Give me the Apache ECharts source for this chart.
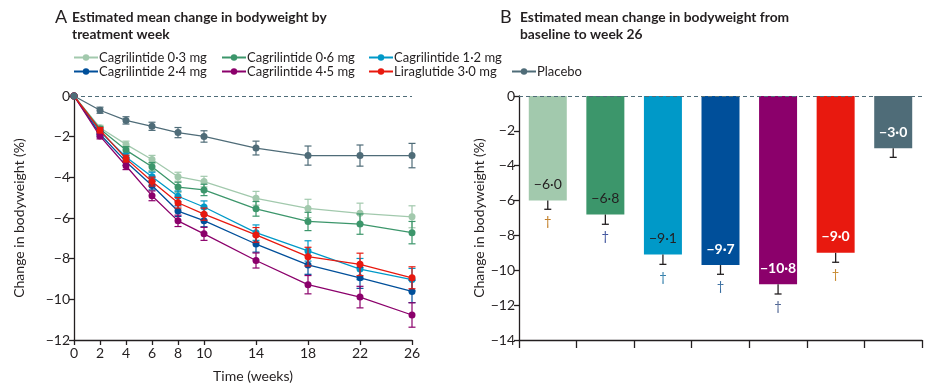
<!DOCTYPE html>
<html><head><meta charset="utf-8">
<script src="https://cdn.jsdelivr.net/npm/echarts@6/dist/echarts.min.js"></script>
<style>html,body{margin:0;padding:0;background:#fff}#c{width:930px;height:392px}</style>
</head><body><div id="c"></div>
<script>
// ---- data ----
const weeks = [0, 2, 4, 6, 8, 10, 14, 18, 22, 26];
const seriesNames = ['Cagrilintide 0·3 mg', 'Cagrilintide 0·6 mg', 'Cagrilintide 1·2 mg', 'Cagrilintide 2·4 mg', 'Cagrilintide 4·5 mg', 'Liraglutide 3·0 mg', 'Placebo'];
const cag03 = [0, -1.56, -2.38, -3.12, -3.97, -4.21, -5.03, -5.53, -5.77, -5.94];
const cag06 = [0, -1.62, -2.66, -3.48, -4.48, -4.62, -5.55, -6.17, -6.30, -6.72];
const cag12 = [0, -1.75, -3.00, -3.97, -4.93, -5.46, -6.72, -7.62, -8.51, -9.03];
const cag24 = [0, -1.88, -3.23, -4.40, -5.66, -6.13, -7.28, -8.31, -8.94, -9.61];
const cag45 = [0, -1.97, -3.43, -4.91, -6.14, -6.78, -8.09, -9.28, -9.89, -10.77];
const lira30 = [0, -1.68, -3.08, -4.21, -5.25, -5.81, -6.83, -7.90, -8.28, -8.94];
const placebo = [0, -0.70, -1.20, -1.49, -1.80, -1.99, -2.56, -2.93, -2.93, -2.93];
const err03 = [0, 0.12, 0.16, 0.2, 0.22, 0.26, 0.34, 0.45, 0.5, 0.54];
const err06 = [0, 0.12, 0.17, 0.21, 0.24, 0.28, 0.36, 0.45, 0.5, 0.55];
const err12 = [0, 0.13, 0.18, 0.22, 0.26, 0.3, 0.38, 0.5, 0.52, 0.55];
const err24 = [0, 0.13, 0.18, 0.22, 0.26, 0.3, 0.4, 0.46, 0.52, 0.55];
const err45 = [0, 0.14, 0.19, 0.24, 0.28, 0.32, 0.37, 0.45, 0.53, 0.6];
const errLira = [0, 0.13, 0.17, 0.22, 0.26, 0.3, 0.36, 0.46, 0.55, 0.54];
const errPlac = [0, 0.15, 0.18, 0.2, 0.25, 0.28, 0.34, 0.47, 0.52, 0.6];
const barValues = [-6.0, -6.8, -9.1, -9.7, -10.8, -9.0, -3.0];
const barErrors = [0.5, 0.56, 0.56, 0.53, 0.56, 0.54, 0.52];
const barDagger = ['†', '†', '†', '†', '†', '†', ''];

// ---- styles ----
const colors = ['#a2c9ad', '#3c966b', '#0099c8', '#004f9a', '#8b006b', '#e8190f', '#4f6c78'];
const lineData = [cag03, cag06, cag12, cag24, cag45, lira30, placebo];
const errData = [err03, err06, err12, err24, err45, errLira, errPlac];
const labelColors = ['#231f20', '#231f20', '#231f20', '#fff', '#fff', '#fff', '#fff'];
const labelWeights = ['normal', 'normal', 'normal', 'bold', 'bold', 'bold', 'bold'];
const daggerColors = ['#c07a20', '#3a4f9a', '#2a7aa8', '#3a6ea0', '#4a6090', '#c88a30', '#000'];
const FONT = 'Lato';
const TXT = '#231f20';
const AX = 14;

function fmt(v) {
  const s = Math.abs(v).toFixed(1).replace('.', '·');
  return (v < 0 ? '−' : '') + s;
}

const chart = echarts.init(document.getElementById('c'), null, {renderer: 'canvas'});

const series = [];
lineData.forEach((d, k) => {
  series.push({
    name: seriesNames[k], type: 'line', xAxisIndex: 0, yAxisIndex: 0,
    data: weeks.map((w, i) => [w, d[i]]),
    symbol: 'circle', symbolSize: 7, showSymbol: true,
    lineStyle: {color: colors[k], width: 1.3},
    itemStyle: {color: colors[k]},
    z: 3 + k, animation: false,
    markLine: k === 0 ? {
      silent: true, symbol: 'none', label: {show: false},
      lineStyle: {color: '#4f6c78', type: [4, 3], width: 1},
      data: [{yAxis: 0}]
    } : undefined
  });
  series.push({
    name: 'err' + k, type: 'custom', xAxisIndex: 0, yAxisIndex: 0,
    data: weeks.map((w, i) => [w, d[i], errData[k][i]]).filter(r => r[2] > 0),
    z: 3 + k, animation: false,
    renderItem: function (params, api) {
      const x = api.value(0), y = api.value(1), e = api.value(2);
      const top = api.coord([x, y + e]), bot = api.coord([x, y - e]);
      const h = 3.5;
      const st = {stroke: colors[k], lineWidth: 1.2};
      return {type: 'group', children: [
        {type: 'line', shape: {x1: top[0], y1: top[1], x2: bot[0], y2: bot[1]}, style: st},
        {type: 'line', shape: {x1: top[0] - h, y1: top[1], x2: top[0] + h, y2: top[1]}, style: st},
        {type: 'line', shape: {x1: bot[0] - h, y1: bot[1], x2: bot[0] + h, y2: bot[1]}, style: st}
      ]};
    }
  });
});

// Panel B bars
series.push({
  name: 'bars', type: 'bar', xAxisIndex: 1, yAxisIndex: 1,
  data: barValues.map((v, i) => ({value: v, itemStyle: {color: colors[i]}})),
  barWidth: 38, animation: false,
  markLine: {
    silent: true, symbol: 'none', label: {show: false},
    lineStyle: {color: '#4f6c78', type: [4, 3], width: 1},
    data: [{yAxis: 0}]
  }
});
series.push({
  name: 'barsErr', type: 'custom', xAxisIndex: 1, yAxisIndex: 1,
  data: barValues.map((v, i) => [i, v, barErrors[i]]),
  z: 5, animation: false,
  renderItem: function (params, api) {
    const i = api.value(0), v = api.value(1), e = api.value(2);
    const p0 = api.coord([i, v]), p1 = api.coord([i, v - e]);
    const st = {stroke: '#231f20', lineWidth: 1.3};
    return {type: 'group', children: [
      {type: 'line', shape: {x1: p0[0], y1: p0[1], x2: p1[0], y2: p1[1]}, style: st},
      {type: 'line', shape: {x1: p1[0] - 3.5, y1: p1[1], x2: p1[0] + 3.5, y2: p1[1]}, style: st},
      {type: 'text', style: {text: fmt(v), x: p0[0], y: p0[1] - 16, align: 'center', verticalAlign: 'middle',
        fill: labelColors[i], font: labelWeights[i] + ' 14px ' + FONT}},
      {type: 'text', style: {text: barDagger[i], x: p1[0], y: p1[1] + 13, align: 'center', verticalAlign: 'middle',
        fill: daggerColors[i], font: '13px ' + FONT}}
    ]};
  }
});

const legendPos = [[73, 51], [221, 51], [368, 51], [73, 65], [221, 65], [368, 65], [511, 65]];
const legends = seriesNames.map((n, k) => ({
  data: [n], left: legendPos[k][0], top: legendPos[k][1], padding: 0,
  itemWidth: 24, itemHeight: 8, itemGap: 0, selectedMode: false,
  textStyle: {fontFamily: FONT, fontSize: 13, color: TXT, padding: [0, 0, 0, -4]}
}));

const axisCommon = {
  axisLine: {show: true, onZero: false, lineStyle: {color: TXT, width: 1.3}},
  axisTick: {show: true, lineStyle: {color: TXT, width: 1.3}},
  axisLabel: {fontFamily: FONT, fontSize: AX, color: TXT},
  splitLine: {show: false}
};
const minusFmt = v => v < 0 ? '−' + Math.abs(v) : String(v);

chart.setOption({
  animation: false,
  textStyle: {fontFamily: FONT},
  title: [
    {text: 'A', left: 55, top: 8, padding: 0, textStyle: {fontFamily: FONT, fontSize: 18, fontWeight: 'normal', color: TXT}},
    {text: 'Estimated mean change in bodyweight by\ntreatment week', left: 72, top: 9, padding: 0,
      textStyle: {fontFamily: FONT, fontSize: 13.8, fontWeight: 'bold', color: TXT, lineHeight: 17}},
    {text: 'B', left: 500, top: 8, padding: 0, textStyle: {fontFamily: FONT, fontSize: 18, fontWeight: 'normal', color: TXT}},
    {text: 'Estimated mean change in bodyweight from\nbaseline to week 26', left: 520, top: 9, padding: 0,
      textStyle: {fontFamily: FONT, fontSize: 13.8, fontWeight: 'bold', color: TXT, lineHeight: 17}}
  ],
  legend: legends,
  grid: [
    {left: 74, top: 96, width: 338, height: 244},
    {left: 519, top: 96, width: 403, height: 244}
  ],
  xAxis: [
    Object.assign({}, axisCommon, {
      type: 'value', gridIndex: 0, min: 0, max: 26, interval: 2,
      name: 'Time (weeks)', nameLocation: 'middle', nameGap: 29,
      nameTextStyle: {fontFamily: FONT, fontSize: AX, color: TXT, padding: [0, 0, 0, 20]},
      axisTick: {show: true, length: 5, lineStyle: {color: TXT, width: 1.3}, customValues: weeks},
      axisLabel: {fontFamily: FONT, fontSize: AX, color: TXT, margin: 6, customValues: weeks}
    }),
    Object.assign({}, axisCommon, {
      type: 'category', gridIndex: 1, data: seriesNames,
      axisTick: {show: true, length: 8, interval: 0, alignWithLabel: false, lineStyle: {color: TXT, width: 1.3}},
      axisLabel: {show: false}
    })
  ],
  yAxis: [
    Object.assign({}, axisCommon, {
      type: 'value', gridIndex: 0, min: -12, max: 0, interval: 2,
      name: 'Change in bodyweight (%)', nameLocation: 'middle', nameGap: 48,
      nameTextStyle: {fontFamily: FONT, fontSize: AX, color: TXT},
      axisTick: {show: true, length: 5, lineStyle: {color: TXT, width: 1.3}},
      axisLabel: {fontFamily: FONT, fontSize: AX, color: TXT, margin: 4, formatter: minusFmt}
    }),
    Object.assign({}, axisCommon, {
      type: 'value', gridIndex: 1, min: -14, max: 0, interval: 2,
      name: 'Change in bodyweight (%)', nameLocation: 'middle', nameGap: 28,
      nameTextStyle: {fontFamily: FONT, fontSize: AX, color: TXT},
      axisTick: {show: true, length: 5, lineStyle: {color: TXT, width: 1.3}},
      axisLabel: {fontFamily: FONT, fontSize: AX, color: TXT, margin: 4, formatter: minusFmt}
    })
  ],
  series: series
});
</script></body></html>
